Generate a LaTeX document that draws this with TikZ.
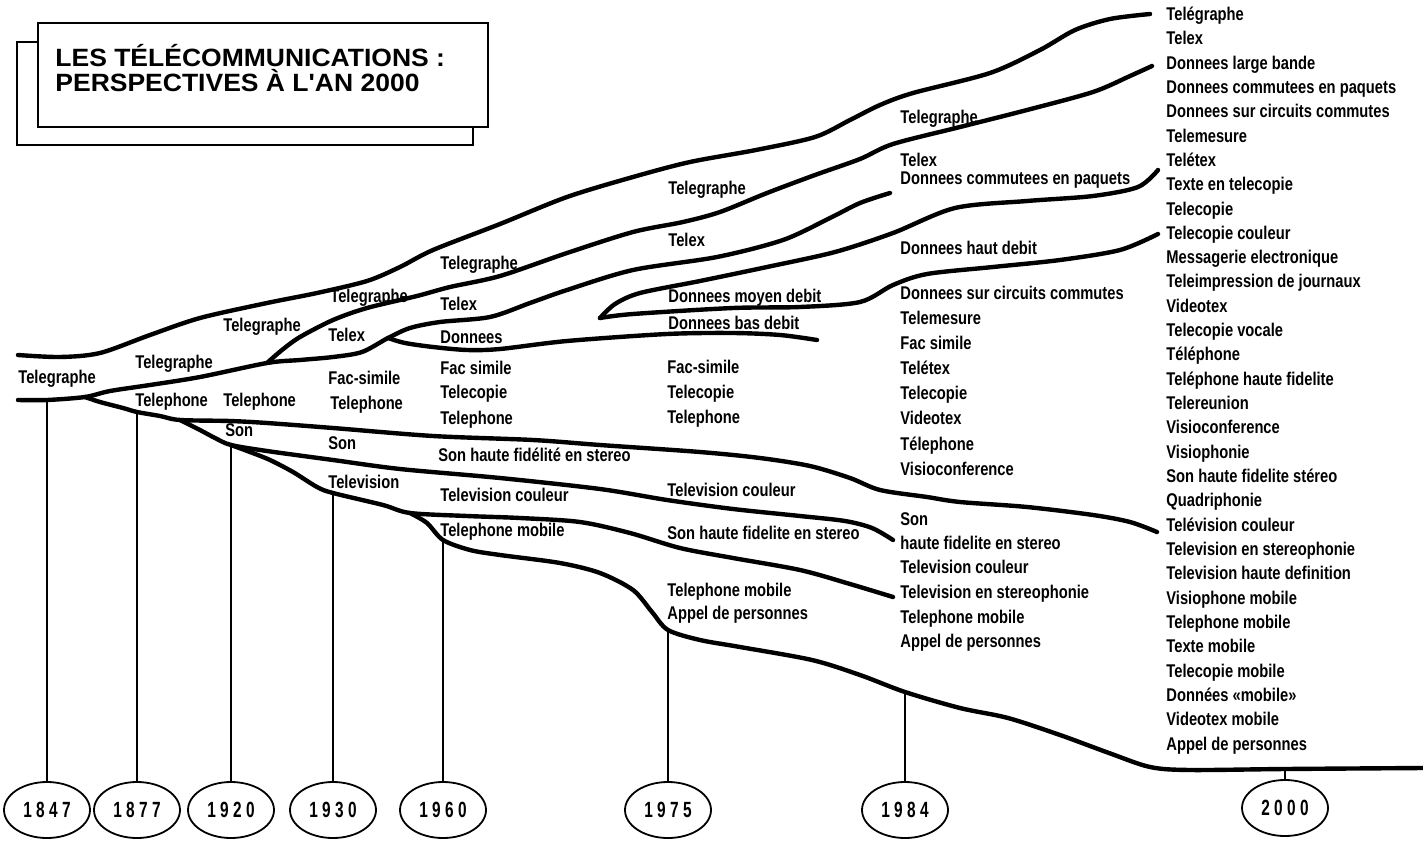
\documentclass[tikz,border=0pt]{standalone}
\usepackage{fontspec}
\setmainfont{Liberation Sans}
\newfontfamily\lblfont{Liberation Sans}[FakeStretch=0.8]
\newfontfamily\yearfont{Liberation Sans}[FakeStretch=0.7,LetterSpace=20]
\newfontfamily\titlefont{Liberation Sans}[FakeStretch=1.06]
\usetikzlibrary{shapes.geometric}

\tikzset{
  band/.style={line width=2.2pt, line cap=round, line join=round},
  stem/.style={line width=1pt},
  frame/.style={line width=1pt},
  lbl/.style={anchor=west, inner sep=0pt, text height=6.6pt, text depth=0pt,
    font=\lblfont\bfseries\fontsize{9.2}{10}\selectfont},
  ttl/.style={anchor=base west, inner sep=0pt,
    font=\titlefont\bfseries\fontsize{12.5}{14}\selectfont},
  yr/.style={draw, ellipse, line width=0.9pt, minimum width=43pt,
    minimum height=28pt, inner sep=0pt,
    font=\yearfont\bfseries\fontsize{11}{12}\selectfont}
}

\begin{document}
\begin{tikzpicture}[x=0.5pt, y=-0.5pt]
  \useasboundingbox (0,0) rectangle (1423,840);

  % title
  \draw[frame] (17,42) rectangle (473,145);
  \draw[frame, fill=white] (38,23) rectangle (488,127);
  \node[ttl] (ttl1) at (55,67) {LES TÉLÉCOMMUNICATIONS :};
  \node[ttl] (ttl2) at (55,91) {PERSPECTIVES À L'AN 2000};

  % the bands
  \draw[band] plot[smooth] coordinates {(18,355) (60,357) (100,353) (150,335) (200,318) (267,303) (317,293) (367,281) (400,267) (433,250) (500,224) (567,197) (633,177) (690,162) (756,150) (815,137) (850,120) (880,105) (913,93) (990,73) (1040,50) (1075,30) (1110,19) (1150,14)};
  \draw[band] plot[smooth] coordinates {(18,400) (47,400) (85,397) (110,391) (150,385) (200,377) (267,363) (300,360) (333,357) (362,352) (388,338) (410,328) (440,322) (490,317) (530,303) (567,290) (633,270) (717,257) (783,240) (830,218) (860,203) (890,193)};
  \draw[band] plot[smooth] coordinates {(267,363) (282,350) (300,337) (333,320) (367,308) (417,296) (450,287) (500,276) (567,253) (633,232) (683,222) (720,212) (767,193) (815,175) (860,159) (893,144) (960,127) (1027,110) (1093,92) (1130,76) (1152,66)};
  \draw[band] plot[smooth] coordinates {(388,338) (405,343) (433,347) (467,350) (500,349) (567,341) (667,334) (733,333) (780,335) (817,340)};
  \draw[band] plot[smooth] coordinates {(600,318) (615,304) (640,293) (700,281) (767,267) (835,252) (893,233) (955,208) (1027,201) (1093,196) (1138,187) (1158,170)};
  \draw[band] plot[smooth] coordinates {(600,318) (633,314) (733,308) (800,307) (860,302) (893,285) (927,274) (993,267) (1060,260) (1120,250) (1158,234)};
  \draw[band] plot[smooth] coordinates {(85,397) (100,402) (123,408) (137,412) (160,416) (180,420) (230,421) (267,423) (333,428) (433,436) (533,440) (600,445) (700,452) (760,458) (810,466) (850,478) (880,490) (927,497) (960,502) (1027,507) (1093,515) (1130,522) (1157,532)};
  \draw[band] plot[smooth] coordinates {(180,420) (200,430) (215,438) (231,445) (267,451) (333,460) (400,469) (500,478) (600,489) (667,500) (733,509) (800,516) (845,521) (872,528) (893,540)};
  \draw[band] plot[smooth] coordinates {(231,445) (250,452) (270,460) (293,472) (317,487) (333,493) (383,505) (410,513) (467,516) (520,518) (580,522) (630,533) (680,548) (733,558) (800,570) (850,584) (893,597)};
  \draw[band] plot[smooth] coordinates {(410,513) (427,523) (443,540) (470,550) (500,555) (560,563) (600,573) (633,590) (652,612) (668,630) (700,640) (740,647) (812,660) (860,675) (905,692) (960,708) (1008,718) (1060,735) (1109,753) (1150,767) (1190,770) (1285,769) (1423,768)};

  % dates
  \coordinate (j1847) at (47,400);
  \coordinate (j1877) at (137,412);
  \coordinate (j1920) at (231,445);
  \coordinate (j1930) at (333,493);
  \coordinate (j1960) at (443,540);
  \coordinate (j1975) at (668,630);
  \coordinate (j1984) at (905,692);
  \coordinate (j2000) at (1285,769);
  \node[yr] (y1847) at (47,810) {1847};
  \node[yr] (y1877) at (137,810) {1877};
  \node[yr] (y1920) at (231,810) {1920};
  \node[yr] (y1930) at (333,810) {1930};
  \node[yr] (y1960) at (443,810) {1960};
  \node[yr] (y1975) at (668,810) {1975};
  \node[yr] (y1984) at (905,810) {1984};
  \node[yr] (y2000) at (1285,808) {2000};
  \draw[stem] (j1847) -- (y1847);
  \draw[stem] (j1877) -- (y1877);
  \draw[stem] (j1920) -- (y1920);
  \draw[stem] (j1930) -- (y1930);
  \draw[stem] (j1960) -- (y1960);
  \draw[stem] (j1975) -- (y1975);
  \draw[stem] (j1984) -- (y1984);
  \draw[stem] (j2000) -- (y2000);

  % 1847
  \node[lbl] (a1) at (18,377) {Telegraphe};
  % 1877
  \node[lbl] (b1) at (135,362) {Telegraphe};
  \node[lbl] (b2) at (135,400) {Telephone};
  % 1920
  \node[lbl] (c1) at (223,325) {Telegraphe};
  \node[lbl] (c2) at (223,400) {Telephone};
  \node[lbl] (c3) at (225,430) {Son};
  % 1930
  \node[lbl] (d1) at (330,296) {Telegraphe};
  \node[lbl] (d2) at (328,335) {Telex};
  \node[lbl] (d3) at (328,378) {Fac-simile};
  \node[lbl] (d4) at (330,403) {Telephone};
  \node[lbl] (d5) at (328,443) {Son};
  \node[lbl] (d6) at (328,482) {Television};
  % 1960
  \node[lbl] (e1) at (440,263) {Telegraphe};
  \node[lbl] (e2) at (440,304) {Telex};
  \node[lbl] (e3) at (440,337) {Donnees};
  \node[lbl] (e4) at (440,368) {Fac simile};
  \node[lbl] (e5) at (440,392) {Telecopie};
  \node[lbl] (e6) at (440,418) {Telephone};
  \node[lbl] (e7) at (438,455) {Son haute fidélité en stereo};
  \node[lbl] (e8) at (440,495) {Television couleur};
  \node[lbl] (e9) at (440,530) {Telephone mobile};
  % 1975
  \node[lbl] (f1) at (668,188) {Telegraphe};
  \node[lbl] (f2) at (668,240) {Telex};
  \node[lbl] (f3) at (668,296) {Donnees moyen debit};
  \node[lbl] (f4) at (668,323) {Donnees bas debit};
  \node[lbl] (f5) at (667,367) {Fac-simile};
  \node[lbl] (f6) at (667,392) {Telecopie};
  \node[lbl] (f7) at (667,417) {Telephone};
  \node[lbl] (f8) at (667,490) {Television couleur};
  \node[lbl] (f9) at (667,533) {Son haute fidelite en stereo};
  \node[lbl] (f10) at (667,590) {Telephone mobile};
  \node[lbl] (f11) at (667,613) {Appel de personnes};
  % 1984
  \node[lbl] (g1) at (900,117) {Telegraphe};
  \node[lbl] (g2) at (900,160) {Telex};
  \node[lbl] (g3) at (900,178) {Donnees commutees en paquets};
  \node[lbl] (g4) at (900,248) {Donnees haut debit};
  \node[lbl] (g5) at (900,293) {Donnees sur circuits commutes};
  \node[lbl] (g6) at (900,318) {Telemesure};
  \node[lbl] (g7) at (900,343) {Fac simile};
  \node[lbl] (g8) at (900,368) {Telétex};
  \node[lbl] (g9) at (900,393) {Telecopie};
  \node[lbl] (g10) at (900,418) {Videotex};
  \node[lbl] (g11) at (900,444) {Télephone};
  \node[lbl] (g12) at (900,469) {Visioconference};
  \node[lbl] (g13) at (900,519) {Son};
  \node[lbl] (g14) at (900,543) {haute fidelite en stereo};
  \node[lbl] (g15) at (900,567) {Television couleur};
  \node[lbl] (g16) at (900,592) {Television en stereophonie};
  \node[lbl] (g17) at (900,617) {Telephone mobile};
  \node[lbl] (g18) at (900,641) {Appel de personnes};
  % 2000
  \node[lbl] (h1) at (1166,14) {Telégraphe};
  \node[lbl] (h2) at (1166,38) {Telex};
  \node[lbl] (h3) at (1166,63) {Donnees large bande};
  \node[lbl] (h4) at (1166,87) {Donnees commutees en paquets};
  \node[lbl] (h5) at (1166,111) {Donnees sur circuits commutes};
  \node[lbl] (h6) at (1166,136) {Telemesure};
  \node[lbl] (h7) at (1166,160) {Telétex};
  \node[lbl] (h8) at (1166,184) {Texte en telecopie};
  \node[lbl] (h9) at (1166,209) {Telecopie};
  \node[lbl] (h10) at (1166,233) {Telecopie couleur};
  \node[lbl] (h11) at (1166,257) {Messagerie electronique};
  \node[lbl] (h12) at (1166,281) {Teleimpression de journaux};
  \node[lbl] (h13) at (1166,306) {Videotex};
  \node[lbl] (h14) at (1166,330) {Telecopie vocale};
  \node[lbl] (h15) at (1166,354) {Téléphone};
  \node[lbl] (h16) at (1166,379) {Teléphone haute fidelite};
  \node[lbl] (h17) at (1166,403) {Telereunion};
  \node[lbl] (h18) at (1166,427) {Visioconference};
  \node[lbl] (h19) at (1166,452) {Visiophonie};
  \node[lbl] (h20) at (1166,476) {Son haute fidelite stéreo};
  \node[lbl] (h21) at (1166,500) {Quadriphonie};
  \node[lbl] (h22) at (1166,525) {Telévision couleur};
  \node[lbl] (h23) at (1166,549) {Television en stereophonie};
  \node[lbl] (h24) at (1166,573) {Television haute definition};
  \node[lbl] (h25) at (1166,598) {Visiophone mobile};
  \node[lbl] (h26) at (1166,622) {Telephone mobile};
  \node[lbl] (h27) at (1166,646) {Texte mobile};
  \node[lbl] (h28) at (1166,671) {Telecopie mobile};
  \node[lbl] (h29) at (1166,695) {Données «mobile»};
  \node[lbl] (h30) at (1166,719) {Videotex mobile};
  \node[lbl] (h31) at (1166,744) {Appel de personnes};
\end{tikzpicture}
\end{document}
